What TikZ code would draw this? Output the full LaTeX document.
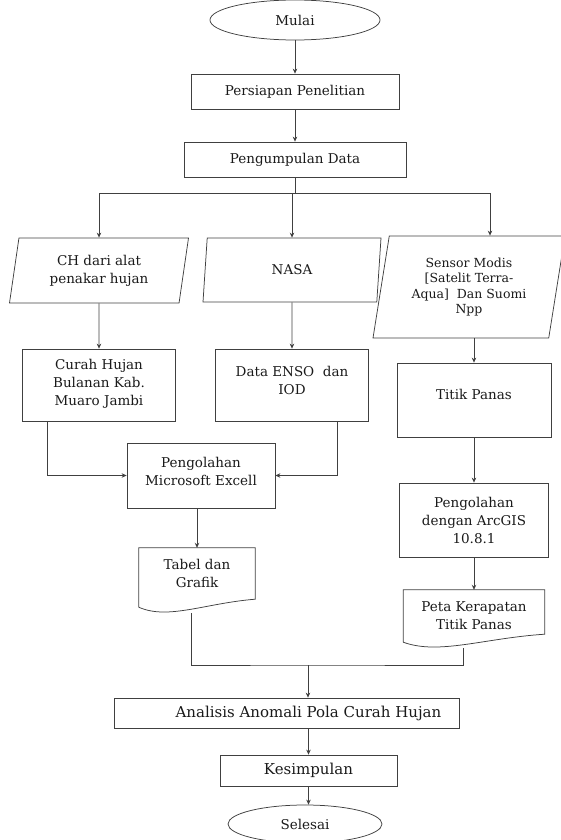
\documentclass[tikz,border=0pt]{standalone}
\usepackage{fontspec}
\setmainfont{DejaVu Serif}
\usetikzlibrary{arrows.meta,calc,shapes.geometric}
\definecolor{flline}{HTML}{404040}
\definecolor{fltext}{HTML}{1A1A1A}
\tikzset{
  flow/.style={draw=flline,line width=.75pt},
  arr/.style={flow,-{Stealth[length=5pt,width=4.5pt]}},
  term/.style={ellipse,draw=flline,line width=.75pt,text=fltext,font=\fontsize{13.5}{17}\selectfont},
  proc/.style={rectangle,draw=flline,line width=.75pt,align=center,text=fltext},
  io/.style={trapezium,trapezium left angle=76,trapezium right angle=104,trapezium stretches body,
    draw=flline,line width=.75pt,align=center,text=fltext},
  doc/.style={rectangle,align=center,text=fltext},
  big/.style={font=\fontsize{15}{18}\selectfont},
  lift/.style={text depth=#1},
}

\begin{document}
\begin{tikzpicture}[x=1pt,y=-1pt,font=\fontsize{13.5}{18}\selectfont]
  \useasboundingbox (0,0) rectangle (560,840);

  % ---------------- start ----------------
  \node[term,minimum width=170pt,minimum height=40pt] (mulai) at (295,20) {Mulai};
  \node[proc,minimum width=208pt,minimum height=35pt] (siap) at (295,91.5) {Persiapan Penelitian};
  \node[proc,minimum width=222pt,minimum height=35pt] (kumpul) at (295,159.5) {Pengumpulan Data};

  % ---------------- data sources ----------------
  \node[io,minimum width=179pt,minimum height=65pt] (ch) at (99,270.5) {CH dari alat\\penakar hujan};
  \node[io,minimum width=178pt,minimum height=64pt] (nasa) at (292,270) {NASA};
  \node[io,minimum width=192pt,minimum height=102pt,font=\fontsize{12.5}{15.5}\selectfont] (sensor) at (469,287)
    {Sensor Modis\\{[}Satelit Terra-\\Aqua{]}\ \ Dan Suomi\\Npp};

  \node[proc,lift=5pt,minimum width=153pt,minimum height=72pt] (curah) at (99,385) {Curah Hujan\\Bulanan Kab.\\Muaro Jambi};
  \node[proc,lift=10pt,minimum width=153pt,minimum height=72pt] (enso) at (292,385) {Data ENSO\ \ dan\\IOD};
  \node[proc,lift=12pt,minimum width=154pt,minimum height=74pt] (titik) at (474,400) {Titik Panas};

  % ---------------- processing ----------------
  \node[proc,lift=8pt,minimum width=148pt,minimum height=65pt] (excel) at (201,475.5) {Pengolahan\\Microsoft Excell};
  \node[proc,minimum width=149pt,minimum height=74pt] (arcgis) at (474,520) {Pengolahan\\dengan ArcGIS\\10.8.1};
  \node[doc,lift=14pt,minimum width=116pt,minimum height=65pt] (tabel) at (197,580.5) {Tabel dan\\Grafik};
  \node[doc,lift=7pt,minimum width=141pt,minimum height=58pt] (peta) at (474,619) {Peta Kerapatan\\Titik Panas};
  \foreach \d in {tabel,peta}
    \draw[flow] (\d.north west) -- (\d.north east) -- ([yshift=14pt]\d.south east)
      .. controls ($(\d.south west)!.57!(\d.south east)+(0,10pt)$) and ($(\d.south west)!.25!(\d.south east)+(0,-7pt)$)
      .. ([yshift=6pt]\d.south west) -- cycle;

  % ---------------- end ----------------
  \node[proc,minimum width=345pt,minimum height=30pt,
    label={[big,text=fltext,xshift=22pt]center:Analisis Anomali Pola Curah Hujan}] (analisis) at (286.5,713) {};
  \node[proc,big,minimum width=177pt,minimum height=31pt] (simpul) at (308.5,770.5) {Kesimpulan};
  \node[term,minimum width=154pt,minimum height=38pt] (selesai) at (305,824) {Selesai};

  % connectors
  \coordinate (cabang) at (295,193);
  \coordinate (gabung) at (308,665);
  \draw[arr] (mulai) -- (siap);
  \draw[arr] (siap) -- (kumpul);
  \draw[flow] (kumpul) -- (cabang);
  \draw[arr] (cabang) -| (ch.north);
  \draw[arr] (cabang) -| (nasa.north);
  \draw[arr] (cabang) -| ([xshift=21pt]sensor.north);
  \draw[arr] (ch) -- (curah);
  \draw[arr] (nasa) -- (enso);
  \draw[arr] (sensor.south -| titik.north) -- (titik);
  \draw[arr] ([xshift=25pt]curah.south west) |- (excel);
  \draw[arr] ([xshift=-32pt]enso.south east) |- (excel);
  \draw[arr] (excel.south -| tabel.north) -- (tabel);
  \draw[arr] (titik) -- (arcgis);
  \draw[arr] (arcgis) -- (peta);
  \draw[flow] ([xshift=-6pt]tabel.south) |- (gabung) -| ([xshift=-11pt]peta.south);
  \draw[arr] (gabung) -- (gabung |- analisis.north);
  \draw[arr] (analisis.south -| simpul.north) -- (simpul);
  \draw[arr] (simpul) -- (simpul |- selesai.north);
\end{tikzpicture}
\end{document}
